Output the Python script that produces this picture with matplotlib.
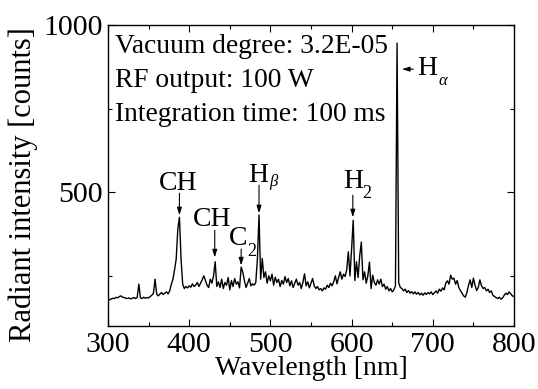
import numpy as np
import matplotlib
matplotlib.use('Agg')
import matplotlib.pyplot as plt

plt.rcParams['font.family'] = ['Liberation Serif', 'DejaVu Serif']

# wavelength grid of the spectrometer readout, 2 nm step
wavelength = np.arange(300, 801, 2)
intensity = [
    180, 178, 181, 183, 182, 186, 184, 188, 190, 186,   # 300-318
    185, 183, 182, 184, 181, 183, 185, 182, 186, 225,   # 320-338
    184, 182, 186, 183, 185, 184, 188, 192, 198, 240,   # 340-358
    195, 190, 196, 200, 194, 198, 202, 196, 205, 225,   # 360-378
    240, 268, 300, 390, 425, 300, 225, 212, 218, 214,   # 380-398
    220, 216, 226, 218, 222, 230, 218, 228, 238, 250,   # 400-418
    236, 222, 215, 240, 228, 250, 292, 218, 232, 215,   # 420-438
    240, 212, 230, 222, 245, 208, 236, 218, 242, 225,   # 440-458
    232, 214, 276, 261, 236, 215, 228, 242, 220, 226,   # 460-478
    222, 230, 300, 432, 240, 302, 245, 262, 228, 250,   # 480-498
    235, 255, 222, 246, 230, 240, 218, 236, 225, 248,   # 500-518
    230, 242, 220, 235, 215, 228, 240, 222, 230, 212,   # 520-538
    230, 256, 220, 232, 214, 228, 242, 220, 212, 218,   # 540-558
    208, 212, 205, 214, 210, 222, 215, 228, 220, 232,   # 560-578
    250, 226, 245, 262, 240, 255, 248, 268, 322, 250,   # 580-598
    330, 416, 236, 292, 245, 310, 351, 238, 262, 228,   # 600-618
    250, 291, 212, 252, 230, 222, 238, 225, 240, 218,   # 620-638
    225, 210, 218, 205, 212, 202, 208, 220, 946, 230,   # 640-658
    215, 212, 205, 210, 200, 206, 198, 203, 196, 202,   # 660-678
    195, 200, 193, 198, 192, 199, 194, 200, 196, 202,   # 680-698
    194, 199, 205, 198, 210, 204, 214, 208, 228, 235,   # 700-718
    225, 252, 240, 243, 225, 236, 215, 206, 198, 190,   # 720-738
    186, 200, 222, 238, 215, 243, 222, 206, 215, 238,   # 740-758
    220, 212, 215, 205, 210, 200, 205, 192, 188, 185,   # 760-778
    182, 186, 180, 184, 192, 198, 194, 202, 196, 190,   # 780-798
    188,                                                # 800
]

info_lines = ['Vacuum degree: 3.2E-05', 'RF output: 100 W',
              'Integration time: 100 ms']

fig = plt.figure(figsize=(5.38, 3.89), dpi=100)
ax = fig.add_axes([0.2007, 0.162, 0.7547, 0.7737])
ax.plot(wavelength, intensity, color='k', lw=1.0)

ax.set_xlim(300, 800)
ax.set_ylim(100, 1000)
ax.set_xticks([300, 400, 500, 600, 700, 800])
ax.set_xticks(np.arange(350, 800, 100), minor=True)
ax.set_yticks([500, 1000])
ax.set_yticks([250, 750], minor=True)
ax.tick_params(which='both', direction='in', top=True, right=True,
               labelsize=21.5, width=0.8)
ax.tick_params(which='major', length=5, pad=4)
ax.tick_params(which='minor', length=3)
for s in ax.spines.values():
    s.set_linewidth(1.0)

ax.set_xlabel('Wavelength [nm]', fontsize=20, labelpad=-1)
ax.set_ylabel('Radiant intensity [counts]', fontsize=22)
ax.yaxis.set_label_coords(-0.172, 0.47)

for i, line in enumerate(info_lines):
    ax.text(308.5, 916 - i * 101, line, fontsize=19.8, va='baseline')

arrow = dict(arrowstyle='-|>,head_length=0.45,head_width=0.14',
             color='k', lw=0.8, shrinkA=0, shrinkB=0)

# CH at 387 nm
ax.text(386, 506, 'CH', fontsize=20, ha='center', va='baseline')
ax.annotate('', xy=(388, 431), xytext=(388, 497), arrowprops=arrow)
# CH at 431 nm
ax.text(428, 398, 'CH', fontsize=20, ha='center', va='baseline')
ax.annotate('', xy=(431.5, 305), xytext=(431.5, 386), arrowprops=arrow)
# C2
ax.text(460, 341, 'C', fontsize=20, ha='center', va='baseline')
ax.text(477, 308, '2', fontsize=13, ha='center', va='baseline')
ax.annotate('', xy=(464, 281), xytext=(464, 330), arrowprops=arrow)
# H beta
ax.text(485, 530, 'H', fontsize=20, ha='center', va='baseline')
ax.text(504, 520, 'β', fontsize=12, style='italic', ha='center',
        va='baseline')
ax.annotate('', xy=(486, 437), xytext=(486, 521), arrowprops=arrow)
# H2
ax.text(602, 512, 'H', fontsize=20, ha='center', va='baseline')
ax.text(619, 482, '2', fontsize=13, ha='center', va='baseline')
ax.annotate('', xy=(601.5, 425), xytext=(601.5, 491), arrowprops=arrow)
# H alpha
ax.text(693, 850, 'H', fontsize=20, ha='center', va='baseline')
ax.text(712, 820, 'α', fontsize=12, style='italic', ha='center',
        va='baseline')
ax.annotate('', xy=(662, 868), xytext=(676, 868), arrowprops=arrow)

fig.savefig('out.png', dpi=100)
